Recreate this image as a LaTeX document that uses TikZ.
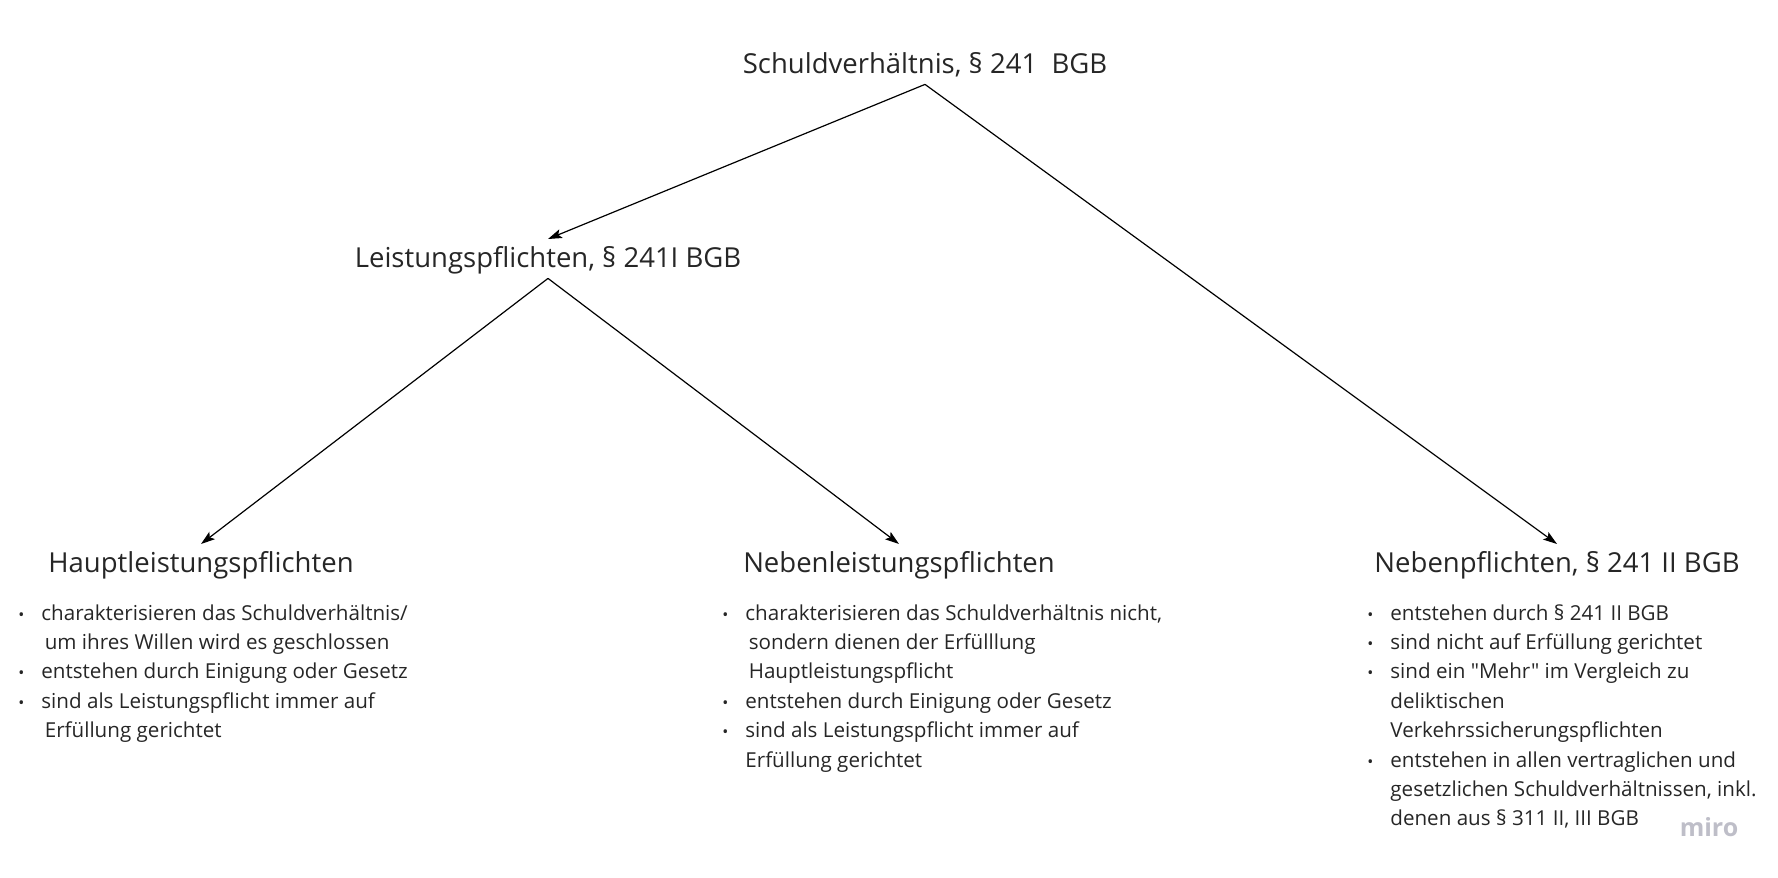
\documentclass[tikz,border=0pt]{standalone}
\usepackage{fontspec}
\setmainfont{Open Sans}[Ligatures=TeXOff]
\usetikzlibrary{arrows.meta}
\definecolor{inktext}{RGB}{38,38,38}
\definecolor{mirogrey}{RGB}{190,190,200}
\newcommand{\dotitem}{\makebox[11.5pt][l]{\footnotesize\textbullet}}
\tikzset{
	heading/.style={font=\fontsize{13.75}{16}\selectfont, text=inktext, anchor=base, inner xsep=0pt, inner ysep=4pt, text height=9.8pt, text depth=1.5pt},
	itemlist/.style={font=\fontsize{10.3}{14.7}\selectfont, text=inktext, anchor=base west, inner sep=0pt},
	link/.style={-{Stealth[length=7pt,width=4.6pt,inset=1.5pt]}, line width=0.6pt},
}
\begin{document}
\begin{tikzpicture}[x=0.5pt,y=-0.5pt]
	\useasboundingbox (0,0) rectangle (1778,878);
	\node[heading] (schuld) at (925,73) {Schuldverhältnis, § 241\ \ BGB};
	\node[heading] (leist) at (548,267) {Leistungspflichten, § 241I BGB};
	\node[heading] (haupt) at (201,572) {Hauptleistungspflichten};
	\node[heading] (nebenl) at (899,572) {Nebenleistungspflichten};
	\node[heading] (nebenp) at (1557,572) {Nebenpflichten, § 241 II BGB};
	\draw[link] (schuld.south) -- (leist.north);
	\draw[link] (schuld.south) -- (nebenp.north);
	\draw[link] (leist.south) -- (haupt.north);
	\draw[link] (leist.south) -- (nebenl.north);
	\node[itemlist] (hauptlist) at (18,620) {\begin{tabular}[t]{@{}l@{}l@{}}
		\dotitem & charakterisieren das Schuldverhältnis/\\
		& \,um ihres Willen wird es geschlossen\\
		\dotitem & entstehen durch Einigung oder Gesetz\\
		\dotitem & sind als Leistungspflicht immer auf\\
		& \,Erfüllung gerichtet
	\end{tabular}};
	\node[itemlist] (nebenllist) at (722,620) {\begin{tabular}[t]{@{}l@{}l@{}}
		\dotitem & charakterisieren das Schuldverhältnis nicht,\\
		& \,sondern dienen der Erfülllung\\
		& \,Hauptleistungspflicht\\
		\dotitem & entstehen durch Einigung oder Gesetz\\
		\dotitem & sind als Leistungspflicht immer auf\\
		& Erfüllung gerichtet
	\end{tabular}};
	\node[itemlist] (nebenplist) at (1367,620) {\begin{tabular}[t]{@{}l@{}l@{}}
		\dotitem & entstehen durch § 241 II BGB\\
		\dotitem & sind nicht auf Erfüllung gerichtet\\
		\dotitem & sind ein "Mehr" im Vergleich zu\\
		& deliktischen\\
		& Verkehrssicherungspflichten\\
		\dotitem & entstehen in allen vertraglichen und\\
		& gesetzlichen Schuldverhältnissen, inkl.\\
		& denen aus § 311 II, III BGB
	\end{tabular}};
	\node[font=\fontsize{12.5}{14}\selectfont\bfseries, text=mirogrey, anchor=base, inner sep=0pt] (miro) at (1709,836) {miro};
\end{tikzpicture}
\end{document}
